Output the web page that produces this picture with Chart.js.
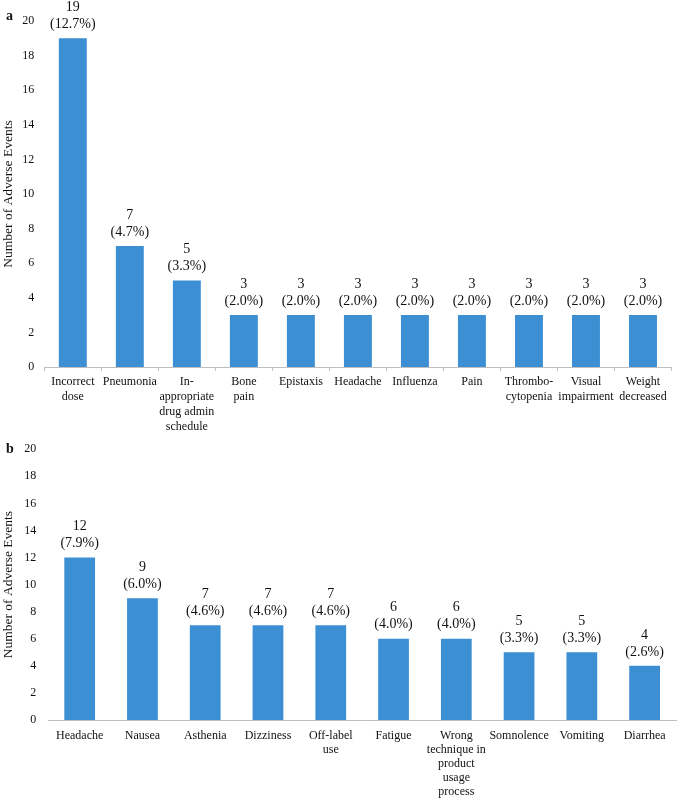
<!DOCTYPE html>
<html>
<head>
<meta charset="utf-8">
<script src="https://cdn.jsdelivr.net/npm/chart.js@4.4.0/dist/chart.umd.min.js"></script>
<style>
html,body{margin:0;padding:0;background:#fff;}
canvas{position:absolute;left:0;}
#ca{top:0;}
#cb{top:430px;}
</style>
</head>
<body>
<canvas id="ca" width="677" height="440"></canvas>
<canvas id="cb" width="677" height="368"></canvas>
<script>
const catsA = [["Incorrect","dose"], "Pneumonia", ["In-","appropriate","drug admin","schedule"], ["Bone","pain"], "Epistaxis", "Headache", "Influenza", "Pain", ["Thrombo-","cytopenia"], ["Visual","impairment"], ["Weight","decreased"]];
const valsA = [19, 7, 5, 3, 3, 3, 3, 3, 3, 3, 3];
const pctA = ["12.7%", "4.7%", "3.3%", "2.0%", "2.0%", "2.0%", "2.0%", "2.0%", "2.0%", "2.0%", "2.0%"];

const catsB = ["Headache", "Nausea", "Asthenia", "Dizziness", ["Off-label","use"], "Fatigue", ["Wrong","technique in","product","usage","process"], "Somnolence", "Vomiting", "Diarrhea"];
const valsB = [12, 9, 7, 7, 7, 6, 6, 5, 5, 4];
const pctB = ["7.9%", "6.0%", "4.6%", "4.6%", "4.6%", "4.0%", "4.0%", "3.3%", "3.3%", "2.6%"];

const yMin = 0, yMax = 20, yStep = 2;
const yTitle = "Number of Adverse Events";

const SERIF = "'Liberation Serif', 'Times New Roman', serif";
const BAR = '#3d8fd3';
const AXIS = '#bfbfbf';

function labelPlugin(pcts, letter, letterY) {
  return {
    id: 'lbl' + letter,
    afterDatasetsDraw(chart) {
      const ctx = chart.ctx;
      const meta = chart.getDatasetMeta(0);
      const data = chart.data.datasets[0].data;
      ctx.save();
      ctx.fillStyle = '#111';
      ctx.textAlign = 'center';
      ctx.textBaseline = 'middle';
      ctx.font = '14px ' + SERIF;
      meta.data.forEach((bar, i) => {
        ctx.fillText(String(data[i]), bar.x, bar.y - 31);
        ctx.fillText('(' + pcts[i] + ')', bar.x, bar.y - 14);
      });
      ctx.font = 'bold 14px ' + SERIF;
      ctx.textAlign = 'left';
      ctx.fillText(letter, 6, letterY);
      ctx.restore();
    }
  };
}

function makeChart(id, cats, vals, pcts, letter, letterY, opts) {
  return new Chart(document.getElementById(id), {
    type: 'bar',
    data: {
      labels: cats,
      datasets: [{ data: vals, backgroundColor: BAR, barPercentage: 0.49, categoryPercentage: 1.0 }]
    },
    options: {
      responsive: false,
      devicePixelRatio: 1,
      animation: false,
      layout: { padding: { top: opts.top, right: opts.right, left: 0, bottom: 0 } },
      plugins: { legend: { display: false }, tooltip: { enabled: false } },
      scales: {
        x: {
          grid: { display: opts.ticks, drawOnChartArea: false, offset: true, tickLength: 4, color: AXIS },
          border: { display: true, color: AXIS, width: 1 },
          ticks: {
            color: '#111', autoSkip: false, maxRotation: 0, minRotation: 0,
            padding: opts.xpad,
            font: { family: SERIF, size: 12, lineHeight: opts.lh }
          },
          afterFit: s => { s.height = opts.xh; }
        },
        y: {
          min: yMin, max: yMax,
          grid: { display: false, drawTicks: false },
          border: { display: false },
          ticks: { stepSize: yStep, color: '#111', padding: opts.ypad, font: { family: SERIF, size: 12 } },
          title: { display: true, text: yTitle, color: '#111', padding: 0, font: { family: SERIF, size: 13.5 } },
          afterFit: s => { s.width = opts.yw; }
        }
      }
    },
    plugins: [labelPlugin(pcts, letter, letterY)]
  });
}

makeChart('ca', catsA, valsA, pctA, 'a', 16, { top: 21, right: 5.5, xh: 73, yw: 44.3, ypad: 10, xpad: 3, lh: 1.25, ticks: true });
makeChart('cb', catsB, valsB, pctB, 'b', 19, { top: 18, right: 1, xh: 78, yw: 48.3, ypad: 12, xpad: 5, lh: 1.17, ticks: false });
</script>
</body>
</html>
